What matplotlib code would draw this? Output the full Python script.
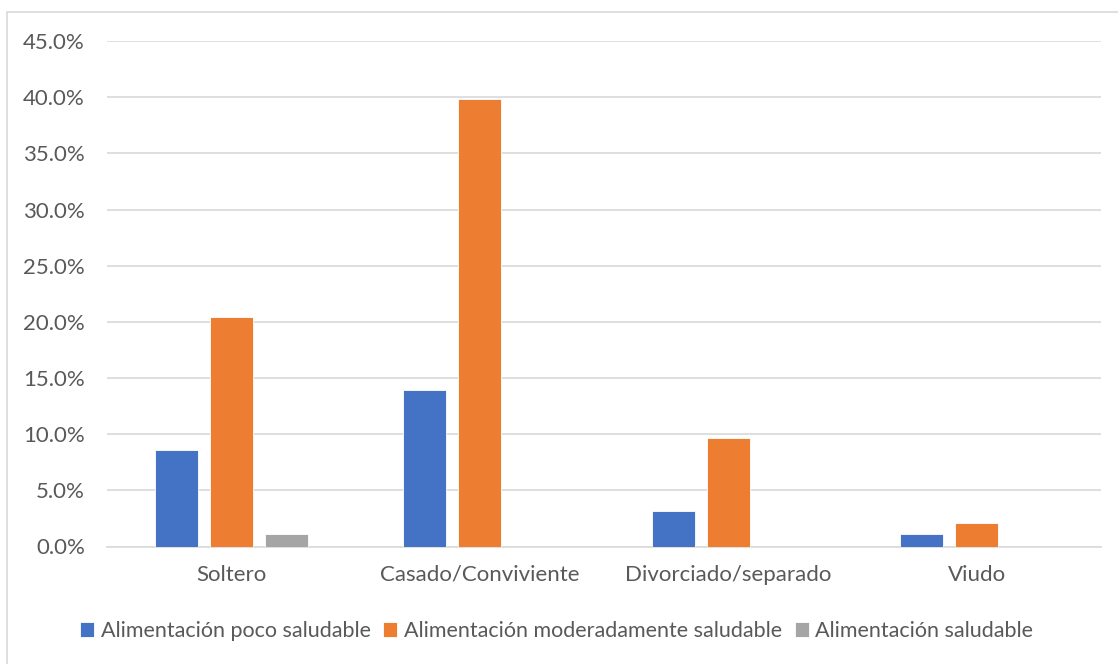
import matplotlib
matplotlib.use("Agg")
import matplotlib.pyplot as plt
from matplotlib.patches import Rectangle
from matplotlib.ticker import PercentFormatter
import numpy as np

categories = ["Soltero", "Casado/Conviviente", "Divorciado/separado", "Viudo"]
series_names = [
    "Alimentación poco saludable",
    "Alimentación moderadamente saludable",
    "Alimentación saludable",
]
poco_saludable = [8.6, 13.9, 3.2, 1.1]
moderadamente_saludable = [20.4, 39.8, 9.7, 2.1]
saludable = [1.1, 0.0, 0.0, 0.0]
y_ticks = [0, 5, 10, 15, 20, 25, 30, 35, 40, 45]

colors = ["#4472C4", "#ED7D31", "#A5A5A5"]
text_color = "#595959"
grid_color = "#D9D9D9"
font_size = 16

plt.rcParams["font.family"] = ["Lato", "DejaVu Sans"]

fig = plt.figure(figsize=(11.18, 6.64), dpi=100)
fig.patch.set_facecolor("white")

# light chart-area border
fig.patches.append(Rectangle((7 / 1118, -0.1), 1.2, 1 - 12 / 664 + 0.1,
                             transform=fig.transFigure, fill=False,
                             edgecolor=grid_color, linewidth=1.2))

ax = fig.add_axes([107 / 1118, 1 - 546.5 / 664, (1101 - 107) / 1118, (546.5 - 41) / 664])

x = np.arange(len(categories))
width = 0.173
step = 0.221
all_series = [poco_saludable, moderadamente_saludable, saludable]
for j, (vals, name, c) in enumerate(zip(all_series, series_names, colors)):
    ax.bar(x + (j - 1) * step, vals, width=width, color=c, label=name,
           edgecolor="white", linewidth=0.6, zorder=3)

ax.set_xlim(-0.5, len(categories) - 0.5)
ax.set_ylim(0, 45)
ax.set_yticks(y_ticks)
ax.yaxis.set_major_formatter(PercentFormatter(decimals=1))
ax.set_xticks(x)
ax.set_xticklabels(categories)

ax.grid(axis="y", color=grid_color, linewidth=1.2, zorder=0)
for s in ["top", "right", "left"]:
    ax.spines[s].set_visible(False)
ax.spines["bottom"].set_color(grid_color)
ax.spines["bottom"].set_linewidth(1.2)
ax.tick_params(axis="both", length=0, labelsize=font_size, colors=text_color)
ax.tick_params(axis="y", pad=16)
ax.tick_params(axis="x", pad=13)

fig.legend(loc="center", bbox_to_anchor=(0.498, 1 - 631 / 664), ncol=3,
           frameon=False, fontsize=15.5, labelcolor=text_color,
           handlelength=0.65, handleheight=0.65, handletextpad=0.3,
           columnspacing=0.6, borderaxespad=0)

fig.savefig("out.png", dpi=100, facecolor="white")
